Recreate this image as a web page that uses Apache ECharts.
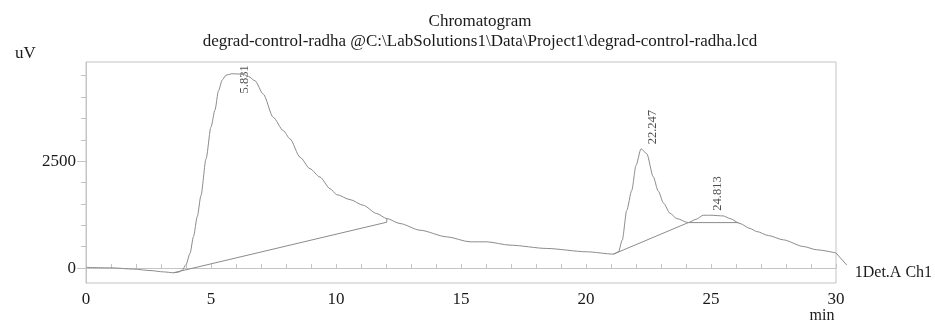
<!DOCTYPE html>
<html>
<head>
<meta charset="utf-8">
<script src="https://cdn.jsdelivr.net/npm/echarts@6/dist/echarts.min.js"></script>
<style>
  html, body { margin: 0; padding: 0; background: #fff; }
  #chart { width: 935px; height: 323px; }
</style>
</head>
<body>
<div id="chart"></div>
<script>
// ---- data ----
const signalTime = [0, 1, 1.9, 2.6, 3.1, 3.5, 3.7, 3.85, 4.0, 4.16, 4.3, 4.45, 4.6, 4.8, 5.0, 5.16, 5.3, 5.45, 5.6, 5.83, 6.1, 6.3, 6.5, 6.76, 7.09, 7.49, 7.89, 8.16, 8.56, 8.96, 9.36, 9.76, 10.03, 10.56, 11.09, 11.63, 12.03, 12.56, 13.36, 14.43, 15.36, 16.03, 16.96, 18.43, 20.03, 21.1, 21.3, 21.45, 21.63, 21.83, 22.0, 22.2, 22.43, 22.69, 22.89, 23.1, 23.36, 23.63, 24.09, 24.4, 24.69, 25.0, 25.49, 25.76, 26.16, 26.56, 26.83, 27.3, 27.89, 28.69, 29.23, 30.0];
const signalValue = [15, 5, -25, -60, -90, -110, -95, -50, 80, 342, 737, 1200, 1700, 2550, 3300, 3700, 4150, 4400, 4510, 4545, 4540, 4530, 4480, 4380, 4070, 3525, 3215, 3022, 2593, 2323, 2127, 1857, 1717, 1601, 1468, 1274, 1158, 1041, 885, 730, 613, 613, 536, 458, 380, 326, 380, 652, 1351, 1817, 2400, 2789, 2677, 2134, 1800, 1520, 1280, 1158, 1063, 1140, 1235, 1235, 1219, 1158, 1041, 925, 854, 760, 660, 504, 427, 352];

// detector leader (continues the trace past the frame to the channel label)
const leaderTime = [30.0, 30.43];
const leaderValue = [352, 70];
const channelName = '1Det.A Ch1';

const baseline1Time = [3.5, 12.03, 12.03];
const baseline1Value = [-110, 1072, 1165];
const baseline2Time = [21.1, 24.09, 26.1];
const baseline2Value = [326, 1063, 1063];

const peakTime = [5.831, 22.247, 24.813];
const peakValue = [4540, 2790, 1235];

const xTickLabels = [0, 5, 10, 15, 20, 25, 30];
const yTickLabels = [0, 2500];
const yMinorTicks = [0, 500, 1000, 1500, 2000, 2500, 3000, 3500, 4000, 4500];

// label placement (style, px)
const peakLabelShift = [[13, 20], [11, -4], [12, -4]];

const FONT = '"Liberation Serif", "Times New Roman", serif';
const TXT = '#1a1a1a';
const LINE = '#8c8c8c';
const FRAME = '#c4c4c4';

const zip = (a, b) => a.map((t, i) => [t, b[i]]);

const chart = echarts.init(document.getElementById('chart'), null, { renderer: 'canvas' });
chart.setOption({
  animation: false,
  backgroundColor: '#fff',
  title: [
    { text: 'Chromatogram', left: 475, textAlign: 'center', top: 8,
      textStyle: { fontFamily: FONT, fontSize: 17, fontWeight: 'normal', color: TXT } },
    { text: 'degrad-control-radha @C:\\LabSolutions1\\Data\\Project1\\degrad-control-radha.lcd', left: 475, textAlign: 'center', top: 28,
      textStyle: { fontFamily: FONT, fontSize: 17, fontWeight: 'normal', color: TXT } },
    { text: 'uV', left: 10, top: 40,
      textStyle: { fontFamily: FONT, fontSize: 17, fontWeight: 'normal', color: TXT } }
  ],
  grid: { left: 86, right: 99, top: 62, bottom: 40, containLabel: false, outerBoundsMode: 'none',
    show: true, borderColor: FRAME, borderWidth: 1, backgroundColor: 'transparent' },
  xAxis: {
    type: 'value', min: 0, max: 30, interval: 5,
    name: 'min', nameLocation: 'end', nameGap: -14,
    nameTextStyle: { fontFamily: FONT, fontSize: 16, color: TXT, align: 'center', verticalAlign: 'top', padding: [40, 0, 0, 0] },
    axisLine: { show: true, lineStyle: { color: FRAME } },
    axisTick: { show: true, inside: true, length: 4, lineStyle: { color: FRAME } },
    minorTick: { show: true, splitNumber: 5, length: 4, lineStyle: { color: FRAME } },
    splitLine: { show: false },
    axisLabel: { fontFamily: FONT, fontSize: 17, color: TXT, margin: 8,
      customValues: xTickLabels, formatter: v => String(v) }
  },
  yAxis: [
    {
      type: 'value', min: -350, max: 4820,
      axisLine: { show: true, lineStyle: { color: FRAME } },
      axisTick: { show: true, inside: false, length: 9, customValues: yTickLabels, lineStyle: { color: FRAME } },
      splitLine: { show: false },
      axisLabel: { fontFamily: FONT, fontSize: 17, color: TXT, margin: 10, customValues: yTickLabels, formatter: v => String(v) }
    },
    {
      type: 'value', min: -350, max: 4820, position: 'left', offset: 0,
      axisLine: { show: false },
      axisTick: { show: true, inside: false, length: 5, customValues: yMinorTicks, lineStyle: { color: FRAME } },
      splitLine: { show: false },
      axisLabel: { show: false }
    }
  ],
  series: [
    {
      name: 'signal', type: 'line', data: zip(signalTime, signalValue),
      showSymbol: false, smooth: 0.25, smoothMonotone: 'x',
      lineStyle: { color: LINE, width: 1 }
    },
    {
      name: 'baseline1', type: 'line', data: zip(baseline1Time, baseline1Value),
      showSymbol: false, lineStyle: { color: LINE, width: 1 }
    },
    {
      name: 'baseline2', type: 'line', data: zip(baseline2Time, baseline2Value),
      showSymbol: false, lineStyle: { color: LINE, width: 1 }
    },
    {
      name: 'peaks', type: 'scatter', symbolSize: 1,
      itemStyle: { color: 'transparent' },
      data: peakTime.map((t, i) => ({
        value: [t, peakValue[i]],
        label: { show: true, position: [peakLabelShift[i][0], peakLabelShift[i][1]] }
      })),
      label: { show: true, rotate: 90, align: 'left', verticalAlign: 'middle',
        fontFamily: FONT, fontSize: 12.5, color: TXT,
        formatter: p => p.value[0].toFixed(3) }
    }
  ]
});

// leader line and channel label outside the frame, placed through the chart's own scales
const p0 = chart.convertToPixel({ gridIndex: 0 }, [leaderTime[0], leaderValue[0]]);
const p1 = chart.convertToPixel({ gridIndex: 0 }, [leaderTime[1], leaderValue[1]]);
chart.setOption({
  graphic: [
    { type: 'line', shape: { x1: p0[0], y1: p0[1], x2: p1[0], y2: p1[1] },
      style: { stroke: LINE, lineWidth: 1 }, silent: true },
    { type: 'text', x: p1[0] + 8, y: p1[1] + 8,
      style: { text: channelName, font: '16px ' + FONT, fill: TXT, textVerticalAlign: 'middle', verticalAlign: 'middle' }, silent: true }
  ]
});
</script>
</body>
</html>
